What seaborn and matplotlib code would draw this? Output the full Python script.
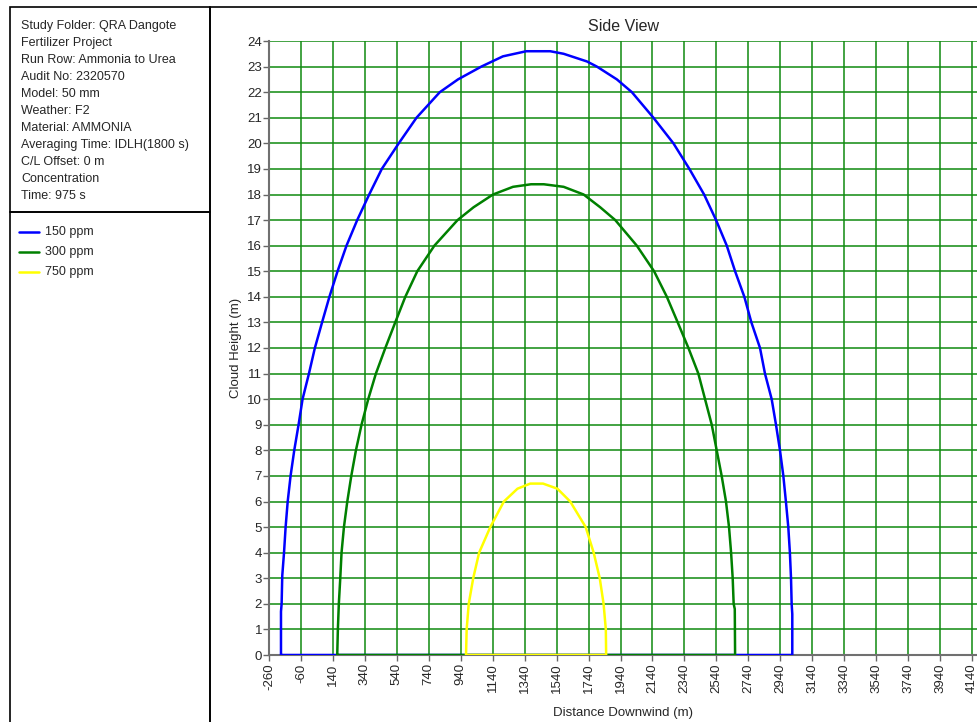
import matplotlib
matplotlib.use('Agg')
import matplotlib.pyplot as plt
from matplotlib.patches import Rectangle
from matplotlib.lines import Line2D
import seaborn as sns
import pandas as pd

blue_x = [-185, -185, -181, -177, -166, -156, -143, -125, -102, -75, -50, -10, 27, 72, 118, 169, 225,
          292, 367, 446, 552, 663, 809, 923, 1069, 1204, 1350, 1500, 1584, 1730, 1792, 1917, 2011,
          2146, 2271, 2371, 2463, 2538, 2605, 2657, 2715, 2759, 2813, 2844, 2886, 2913, 2938, 2959,
          2975, 2990, 3000, 3007, 3011, 3015, 3015, -185]
blue_y = [0, 1.7, 2, 3.1, 4, 5, 6, 7, 8, 9, 10, 11, 12, 13, 14, 15, 16,
          17, 18, 19, 20, 21, 22, 22.5, 23, 23.4, 23.6, 23.6, 23.5, 23.2, 23, 22.5, 22,
          21, 20, 19, 18, 17, 16, 15, 14, 13, 12, 11, 10, 9, 8, 7,
          6, 5, 4, 3, 2, 1.6, 0, 0]

green_x = [167, 171, 177, 186, 194, 209, 230, 255, 284, 319, 361, 409, 468, 530, 593, 668, 775,
           920, 1020, 1142, 1267, 1380, 1460, 1584, 1709, 1813, 1907, 2042, 2150, 2230, 2298, 2365,
           2427, 2469, 2511, 2542, 2573, 2600, 2619, 2632, 2642, 2648, 2655, 2657, 167]
green_y = [0, 1, 2, 3, 4, 5, 6, 7, 8, 9, 10, 11, 12, 13, 14, 15, 16,
           17, 17.5, 18, 18.3, 18.4, 18.4, 18.3, 18, 17.5, 17, 16, 15, 14, 13, 12,
           11, 10, 9, 8, 7, 6, 5, 4, 3, 2, 1.8, 0, 0]

yellow_x = [973, 977, 990, 1018, 1055, 1125, 1210, 1295, 1375, 1455, 1545, 1625, 1722, 1772,
            1810, 1834, 1848, 1850, 973]
yellow_y = [0, 1, 2, 3, 4, 5, 6, 6.5, 6.7, 6.7, 6.5, 6, 5, 4,
            3, 2, 1, 0, 0]

series = ["150 ppm", "300 ppm", "750 ppm"]
colors = {"150 ppm": "#0000ff", "300 ppm": "#008000", "750 ppm": "#ffff00"}

x_ticks = list(range(-260, 4141, 200))
y_ticks = list(range(0, 25))

info_lines = ["Study Folder: QRA Dangote", "Fertilizer Project", "Run Row: Ammonia to Urea",
              "Audit No: 2320570", "Model: 50 mm", "Weather: F2", "Material: AMMONIA",
              "Averaging Time: IDLH(1800 s)", "C/L Offset: 0 m", "Concentration", "Time: 975 s"]

rows = []
for name, xs, ys in zip(series, [blue_x, green_x, yellow_x], [blue_y, green_y, yellow_y]):
    for i, (a, b) in enumerate(zip(xs, ys)):
        rows.append({"dist": a, "height": b, "conc": name, "order": i})
df = pd.DataFrame(rows)

sns.set_style("white")
plt.rcParams['font.family'] = ['Liberation Sans', 'DejaVu Sans']
plt.rcParams['axes.unicode_minus'] = False

W, H = 977, 722
fig = plt.figure(figsize=(W / 100, H / 100), dpi=100)
ax = fig.add_axes([269 / W, 67 / H, 708 / W, 614 / H])

sns.lineplot(data=df, x="dist", y="height", hue="conc", palette=colors, sort=False,
             estimator=None, units="conc", linewidth=1.8, legend=False, ax=ax, zorder=3)

ax.set_xlim(-260, 4171)
ax.set_ylim(0, 24)
ax.set_xticks(x_ticks)
ax.set_yticks(y_ticks)
ax.set_axisbelow(True)
ax.grid(True, color="#108a10", linewidth=1.1)
ax.tick_params(axis="x", labelrotation=90, labelsize=9.5, length=4, width=1, color="#666666",
               direction="out", bottom=True, pad=2)
ax.tick_params(axis="y", labelsize=9.5, length=4, width=1, color="#666666",
               direction="out", left=True, pad=1)
for s in ["top", "right"]:
    ax.spines[s].set_visible(False)
for s in ["left", "bottom"]:
    ax.spines[s].set_color("#707070")
    ax.spines[s].set_linewidth(1.5)
ax.set_xlabel("Distance Downwind (m)", fontsize=9.5, labelpad=10)
ax.set_ylabel("Cloud Height (m)", fontsize=9.5, labelpad=4)
ax.set_title("Side View", fontsize=11.5, pad=7)

# panel frames
def frame(x0, y0, x1, y1):
    fig.patches.append(Rectangle((x0 / W, 1 - y1 / H), (x1 - x0) / W, (y1 - y0) / H,
                                 transform=fig.transFigure, fill=False, edgecolor="black",
                                 linewidth=1.2, zorder=0))

frame(10, 7, 210, 212)
frame(10, 212, 210, 730)
frame(210, 7, 990, 730)

for i, line in enumerate(info_lines):
    fig.text(21 / W, 1 - (26 + 17 * i) / H, line, fontsize=9, va="center", ha="left")

for i, name in enumerate(series):
    yy = 1 - (232 + 20 * i) / H
    fig.lines.append(Line2D([19 / W, 39 / W], [yy, yy], transform=fig.transFigure,
                            color=colors[name], linewidth=1.8))
    fig.text(45 / W, yy, name, fontsize=9, va="center", ha="left")

plt.savefig("out.png", dpi=100)
plt.close()
